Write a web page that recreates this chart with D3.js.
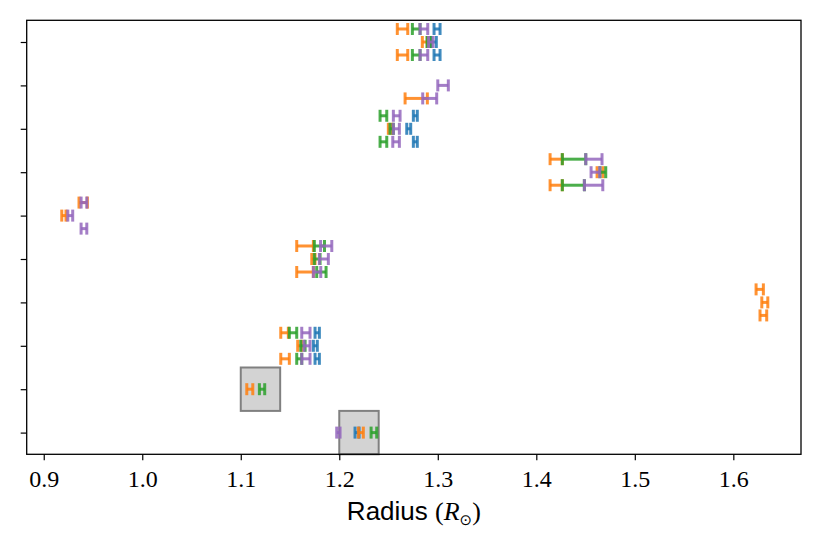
<!DOCTYPE html>
<html>
<head>
<meta charset="utf-8">
<script src="https://cdn.jsdelivr.net/npm/d3@7"></script>
<style>
  body { margin: 0; background: #fff; }
  svg { display: block; }
</style>
</head>
<body>
<svg id="chart" width="822" height="548"></svg>
<script>
// ---- data ----
const xTicks = [0.9, 1.0, 1.1, 1.2, 1.3, 1.4, 1.5, 1.6];
const yTicks = [0, 1, 2, 3, 4, 5, 6, 7, 8, 9];

const blueY  = [9.3, 9, 8.7, 7.3, 7, 6.7, 2.3, 2, 1.7, 0];
const blueLo = [1.2962, 1.2929, 1.2962, 1.2752, 1.2685, 1.2752, 1.1754, 1.1737, 1.1754, 1.2160];
const blueHi = [1.3023, 1.2985, 1.3023, 1.2792, 1.2725, 1.2792, 1.1798, 1.1777, 1.1798, 1.2201];

const orangeY  = [9.3, 9, 8.7, 7.7, 7, 6.3, 6, 5.7, 5.3, 5, 4.3, 4, 3.7, 3.3, 3, 2.7, 2.3, 2, 1.7, 1, 0];
const orangeLo = [1.2589, 1.2843, 1.2589, 1.2668, 1.2498, 1.4140, 1.4617, 1.4140, 0.9358, 0.9183, 1.1568, 1.1721, 1.1568, 1.6231, 1.6289, 1.6271, 1.1406, 1.1578, 1.1406, 1.1061, 1.2194];
const orangeHi = [1.2695, 1.2894, 1.2695, 1.2894, 1.2533, 1.4264, 1.4678, 1.4264, 0.9443, 0.9226, 1.1737, 1.1754, 1.1737, 1.6305, 1.6350, 1.6339, 1.1483, 1.1619, 1.1493, 1.1122, 1.2244];

const greenY  = [9.3, 9, 8.7, 7.3, 7, 6.7, 6.3, 6, 5.7, 4.3, 4, 3.7, 2.3, 2, 1.7, 1, 0];
const greenLo = [1.2742, 1.2891, 1.2742, 1.2414, 1.2515, 1.2414, 1.4264, 1.4647, 1.4264, 1.1747, 1.1747, 1.1771, 1.1493, 1.1609, 1.1568, 1.1189, 1.2323];
const greenHi = [1.2820, 1.2929, 1.2820, 1.2482, 1.2549, 1.2482, 1.4502, 1.4705, 1.4488, 1.1850, 1.1805, 1.1866, 1.1568, 1.1653, 1.1619, 1.1243, 1.2380];

const purpleY  = [9.3, 9, 8.7, 8, 7.7, 7.3, 7, 6.7, 6.3, 6, 5.7, 5.3, 5, 4.7, 4.3, 4, 3.7, 2.3, 2, 1.7, 0];
const purpleLo = [1.2820, 1.2906, 1.2820, 1.3000, 1.2847, 1.2549, 1.2549, 1.2543, 1.4502, 1.4556, 1.4488, 0.9379, 0.9244, 0.9379, 1.1810, 1.1798, 1.1737, 1.1619, 1.1642, 1.1619, 1.1974];
const purpleHi = [1.2898, 1.2952, 1.2898, 1.3107, 1.2989, 1.2617, 1.2610, 1.2610, 1.4667, 1.4644, 1.4675, 0.9437, 0.9294, 0.9437, 1.1924, 1.1889, 1.1812, 1.1703, 1.1703, 1.1703, 1.2008];

// shaded boxes: [x0, x1, row]
const boxX0 = [1.10, 1.20];
const boxX1 = [1.14, 1.24];
const boxRow = [1, 0];

const seriesList = [
  { color: "#1f77b4", y: blueY,   lo: blueLo,   hi: blueHi },
  { color: "#ff7f0e", y: orangeY, lo: orangeLo, hi: orangeHi },
  { color: "#2ca02c", y: greenY,  lo: greenLo,  hi: greenHi },
  { color: "#9467bd", y: purpleY, lo: purpleLo, hi: purpleHi }
];

// ---- layout ----
const svg = d3.select("#chart");
const L = 26.7, R = 801, T = 20.3, B = 454.3;

const x = d3.scaleLinear().domain([0.8827, 1.6687]).range([L, R]);
const y = d3.scaleLinear().domain([-0.5, 9.5]).range([B, T]);

// boxes
svg.append("g").selectAll("rect")
  .data(boxX0.map((d, i) => ({ x0: d, x1: boxX1[i], r: boxRow[i] })))
  .join("rect")
  .attr("x", d => x(d.x0))
  .attr("y", d => y(d.r + 0.5))
  .attr("width", d => x(d.x1) - x(d.x0))
  .attr("height", d => y(d.r - 0.5) - y(d.r + 0.5))
  .attr("fill", "#d3d3d3")
  .attr("stroke", "#808080")
  .attr("stroke-width", 2);

// error bars
const capH = 6;
seriesList.forEach(s => {
  const data = s.y.map((v, i) => ({ y: v, lo: s.lo[i], hi: s.hi[i] }));
  const g = svg.append("g")
    .attr("stroke", s.color)
    .attr("stroke-width", 3)
    .attr("stroke-opacity", 0.85)
    .attr("fill", "none");
  const eb = g.selectAll("g").data(data).join("g");
  eb.append("line")
    .attr("x1", d => x(d.lo)).attr("x2", d => x(d.hi))
    .attr("y1", d => y(d.y)).attr("y2", d => y(d.y));
  eb.append("line")
    .attr("x1", d => x(d.lo)).attr("x2", d => x(d.lo))
    .attr("y1", d => y(d.y) - capH).attr("y2", d => y(d.y) + capH);
  eb.append("line")
    .attr("x1", d => x(d.hi)).attr("x2", d => x(d.hi))
    .attr("y1", d => y(d.y) - capH).attr("y2", d => y(d.y) + capH);
});

// axes
const xAxis = d3.axisBottom(x).tickValues(xTicks).tickFormat(d3.format(".1f"))
  .tickSize(6).tickPadding(10);
const gx = svg.append("g").attr("transform", `translate(0,${B})`).call(xAxis);
gx.select(".domain").remove();
gx.selectAll(".tick line").attr("stroke", "#000").attr("stroke-width", 1.2);
gx.selectAll(".tick text")
  .attr("font-family", "'Liberation Serif', 'DejaVu Serif', serif")
  .attr("font-size", 24)
  .attr("fill", "#000");

const yAxis = d3.axisLeft(y).tickValues(yTicks).tickFormat("").tickSize(6);
const gy = svg.append("g").attr("transform", `translate(${L},0)`).call(yAxis);
gy.select(".domain").remove();
gy.selectAll(".tick line").attr("stroke", "#000").attr("stroke-width", 1.2);

// frame
svg.append("rect")
  .attr("x", L).attr("y", T)
  .attr("width", R - L).attr("height", B - T)
  .attr("fill", "none").attr("stroke", "#000").attr("stroke-width", 1.3);

// x label
const lab = svg.append("text")
  .attr("x", (L + R) / 2).attr("y", 520)
  .attr("text-anchor", "middle")
  .attr("fill", "#000")
  .attr("font-size", 26);
lab.append("tspan").attr("font-family", "'Liberation Sans', 'DejaVu Sans', sans-serif").text("Radius ");
lab.append("tspan").attr("font-family", "'Liberation Serif', serif").text("(");
lab.append("tspan").attr("font-family", "'Liberation Serif', serif").attr("font-style", "italic").text("R");
lab.append("tspan").attr("font-family", "'DejaVu Sans', sans-serif").attr("font-size", 15).attr("dy", 5).text("⊙");
lab.append("tspan").attr("font-family", "'Liberation Serif', serif").attr("dy", -5).text(")");
</script>
</body>
</html>
